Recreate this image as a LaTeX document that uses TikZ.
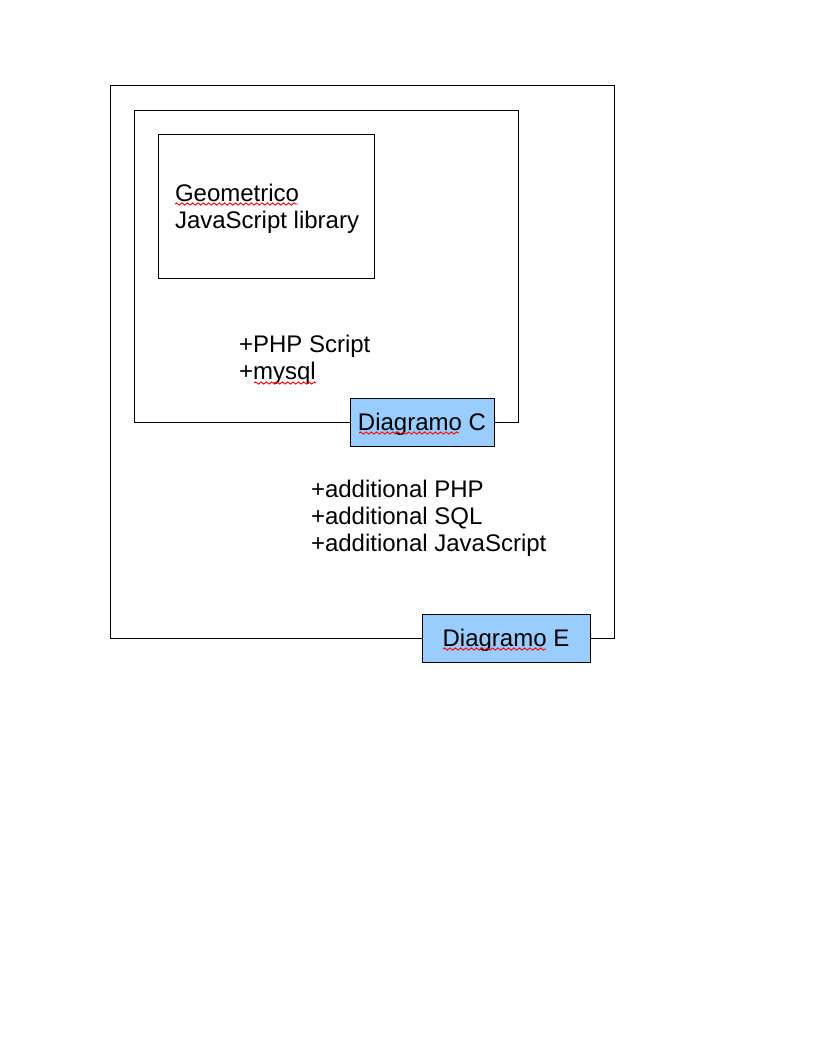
\documentclass[tikz,border=0pt]{standalone}
\usepackage{fontspec}
\setmainfont{Liberation Sans}
\usetikzlibrary{decorations.pathmorphing}
\definecolor{labelblue}{HTML}{99CCFF}
\begin{document}
\begin{tikzpicture}[x=0.75pt,y=-0.75pt,
  frame/.style={draw=black,line width=0.75pt,rectangle,inner sep=0pt,outer sep=0pt,fill=white},
  tag/.style={draw=black,line width=0.75pt,rectangle,inner sep=0pt,outer sep=0pt,fill=labelblue},
  txt/.style={inner sep=0pt,outer sep=0pt,font=\fontsize{18pt}{20.25pt}\selectfont},
  squiggle/.style={draw=red,line width=0.7pt,decorate,decoration={snake,amplitude=0.8pt,segment length=4pt}}]
\useasboundingbox[fill=white] (0,0) rectangle (816,1056);
% boxes
\node[frame,minimum width=378pt,minimum height=414pt] (boxE) at (362,362) {};
\node[frame,minimum width=288pt,minimum height=234pt] (boxC) at (326,266) {};
\node[frame,minimum width=162pt,minimum height=108pt] (lib) at (266,206) {};
% library text
\node[txt,anchor=base west] (geo) at (175,201) {Geometrico};
\node[txt,anchor=base west] (jsl) at (175,228) {JavaScript library};
% php text
\node[txt,anchor=base west] (php) at (239,352) {+PHP Script};
\node[txt,anchor=base west] (sql) at (239,379) {+mysql};
% additional text
\node[txt,anchor=base west] (add1) at (311,497) {+additional PHP};
\node[txt,anchor=base west] (add2) at (311,524) {+additional SQL};
\node[txt,anchor=base west] (add3) at (311,551) {+additional JavaScript};
% labels
\node[tag,minimum width=108pt,minimum height=36pt] (tagC) at (422,422) {};
\node[txt,anchor=base] (tagCt) at (422,430) {Diagramo C};
\node[tag,minimum width=126pt,minimum height=36pt] (tagE) at (506,638) {};
\node[txt,anchor=base] (tagEt) at (506,646) {Diagramo E};
% spell-check squiggles
\coordinate (s1a) at (175,204); \coordinate (s1b) at (298,204);
\coordinate (s2a) at (254,383); \coordinate (s2b) at (316,383);
\coordinate (s3a) at (359,433); \coordinate (s3b) at (459,433);
\coordinate (s4a) at (443,649); \coordinate (s4b) at (546,649);
\path[squiggle] (s1a) -- (s1b);
\path[squiggle] (s2a) -- (s2b);
\path[squiggle] (s3a) -- (s3b);
\path[squiggle] (s4a) -- (s4b);
\end{tikzpicture}
\end{document}
